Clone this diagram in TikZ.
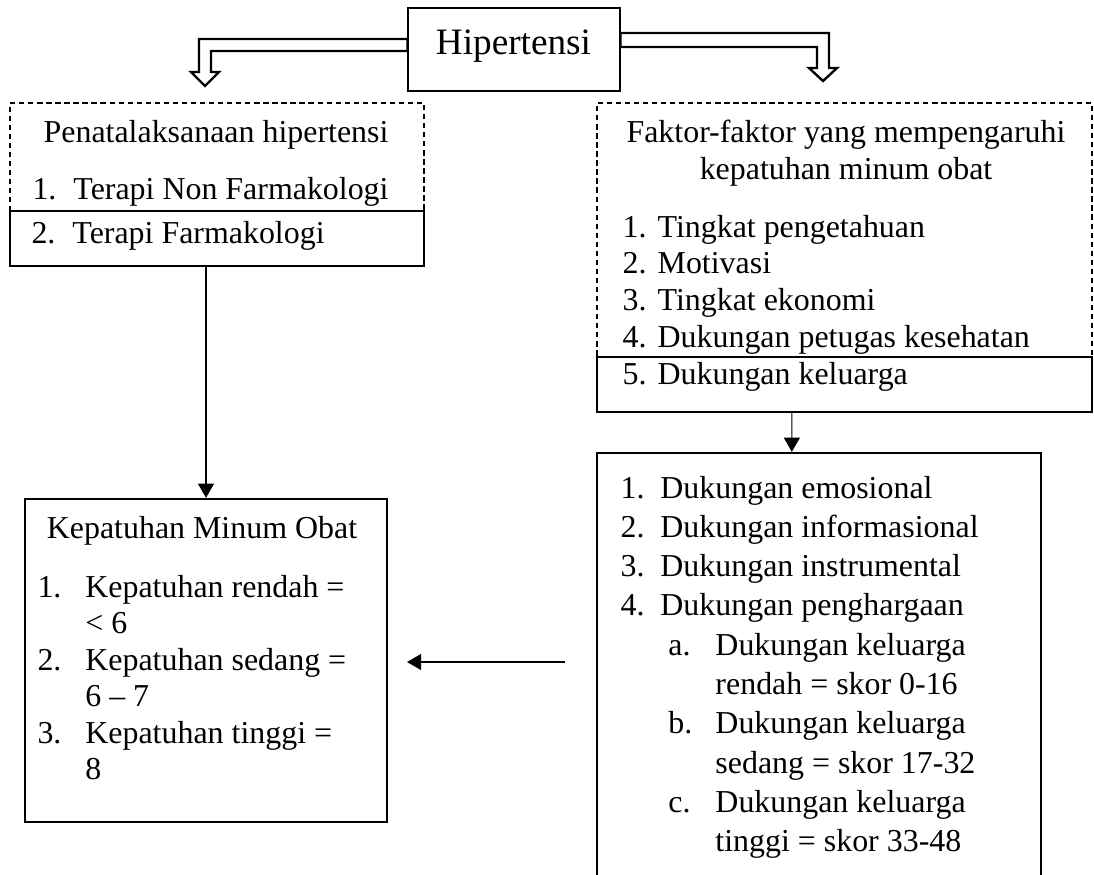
\documentclass[tikz,border=0pt]{standalone}
\usepackage{fontspec}
\setmainfont{Liberation Serif}
\usetikzlibrary{arrows.meta,calc,fit}

\newcommand{\butir}[2]{\makebox[#1][l]{#2}}

\tikzset{
	txt/.style={inner sep=0pt, anchor=base west, font=\fontsize{12}{14}\selectfont},
	dashbox/.style={draw, dash pattern=on 2pt off 1.4pt, line width=0.4pt, inner sep=0pt},
	itembox/.style={draw, line width=0.8pt, inner sep=0pt},
	bigbox/.style={draw, line width=0.9pt, inner sep=0pt},
	hollow/.style={draw, line width=0.9pt, line join=miter},
	arr/.style={-{Triangle[length=5.3pt,width=6pt]}, line width=0.4pt},
}

\begin{document}
\begin{tikzpicture}[x=0.376pt, y=-0.376pt]
	\clip (0,0) rectangle (1094,874);

	% judul
	\node[draw, line width=0.4pt, inner sep=0pt, fit={(408,8) (620,91)}] (hip) {};
	\node[inner sep=0pt, anchor=base, font=\fontsize{14}{16}\selectfont] (hiptxt) at (513.5,55) {Hipertensi};

	% panah kosong
	\draw[hollow] (hip.west |- 0,39) -- (199,39) -- (199,72) -- (191,72) -- (205,86) -- (219,72) -- (211,72) -- (211,51) -- (hip.west |- 0,51) -- cycle;
	\draw[hollow] (hip.east |- 0,33) -- (829,33) -- (829,68) -- (837,68) -- (823,81) -- (809,68) -- (817,68) -- (817,47) -- (hip.east |- 0,47) -- cycle;

	% penatalaksanaan
	\node[dashbox, fit={(10,103) (424,266)}] (tata) {};
	\node[itembox, fit={(10,211) (424,266)}] (farmako) {};
	\node[txt, anchor=base] (tatajudul) at (216,143) {Penatalaksanaan hipertensi};
	\node[txt] (nonfarm) at (32,200) {\butir{15.4pt}{1.}Terapi Non Farmakologi};
	\node[txt] (farm) at (31,243) {\butir{15.4pt}{2.}Terapi Farmakologi};

	% faktor
	\node[dashbox, fit={(597,103) (1092,412)}] (faktor) {};
	\node[itembox, fit={(597,357) (1092,412)}] (dukel) {};
	\node[txt, anchor=base] (faktorjudul) at (846,143) {Faktor-faktor yang mempengaruhi};
	\node[txt, anchor=base] (faktorjudul2) at (846,180) {kepatuhan minum obat};
	\node[txt, font=\fontsize{12}{13.9}\selectfont] (faktorlist) at (622,237) {\begin{tabular}[t]{@{}l@{}}
		\butir{13.2pt}{1.}Tingkat pengetahuan\\
		\butir{13.2pt}{2.}Motivasi\\
		\butir{13.2pt}{3.}Tingkat ekonomi\\
		\butir{13.2pt}{4.}Dukungan petugas kesehatan\\
		\butir{13.2pt}{5.}Dukungan keluarga
	\end{tabular}};

	% bentuk dukungan
	\node[bigbox, fit={(597,453) (1041,900)}] (bentuk) {};
	\node[txt, font=\fontsize{12}{14.78}\selectfont] (bentuklist) at (620,498) {\begin{tabular}[t]{@{}l@{}}
		\butir{15pt}{1.}Dukungan emosional\\
		\butir{15pt}{2.}Dukungan informasional\\
		\butir{15pt}{3.}Dukungan instrumental\\
		\butir{15pt}{4.}Dukungan penghargaan\\
		\hspace{18pt}\butir{17.7pt}{a.}Dukungan keluarga\\
		\hspace{35.7pt}rendah = skor 0-16\\
		\hspace{18pt}\butir{17.7pt}{b.}Dukungan keluarga\\
		\hspace{35.7pt}sedang = skor 17-32\\
		\hspace{18pt}\butir{17.7pt}{c.}Dukungan keluarga\\
		\hspace{35.7pt}tinggi = skor 33-48
	\end{tabular}};

	% kepatuhan
	\node[bigbox, fit={(25,499) (387,822)}] (patuh) {};
	\node[txt, anchor=base] (patuhjudul) at (202,538) {Kepatuhan Minum Obat};
	\node[txt, font=\fontsize{12}{13.76}\selectfont] (patuhlist) at (37,597) {\begin{tabular}[t]{@{}l@{}}
		\butir{18pt}{1.}Kepatuhan rendah =\\
		\hspace{18pt}< 6\\
		\butir{18pt}{2.}Kepatuhan sedang =\\
		\hspace{18pt}6 – 7\\
		\butir{18pt}{3.}Kepatuhan tinggi =\\
		\hspace{18pt}8
	\end{tabular}};

	% panah
	\coordinate (dari) at (565,662);
	\coordinate (ke) at (407,662);
	\draw[arr] (patuh.north |- farmako.south) -- (patuh.north);
	\draw[arr] ($(dukel.south west)+(196,0)$) -- ($(bentuk.north west)+(196,0)$);
	\draw[arr] (dari) -- (ke);
\end{tikzpicture}
\end{document}
